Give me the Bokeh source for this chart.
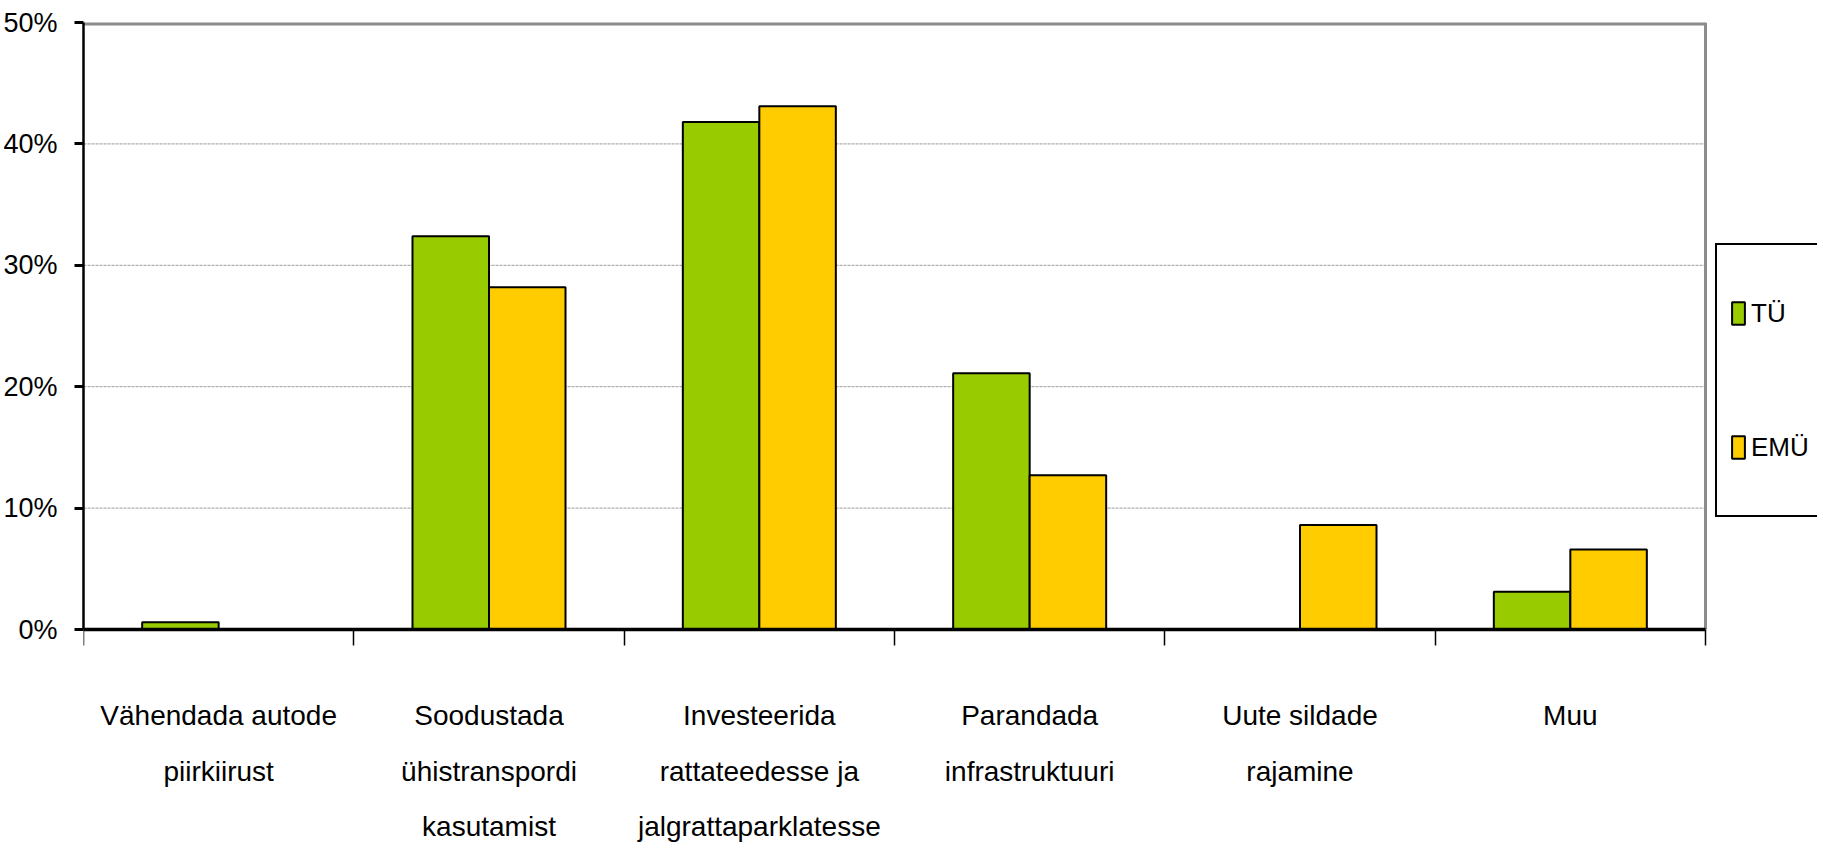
from bokeh.plotting import figure
from bokeh.models import (ColumnDataSource, FixedTicker, PrintfTickFormatter, Legend,
                          LegendItem, Range1d)
from bokeh.transform import dodge
from bokeh.core.properties import value
from bokeh.embed import file_html
from bokeh.resources import INLINE

# ---- data ----
categories = [
    "Vähendada autode\npiirkiirust",
    "Soodustada\nühistranspordi\nkasutamist",
    "Investeerida\nrattateedesse ja\njalgrattaparklatesse",
    "Parandada\ninfrastruktuuri",
    "Uute sildade\nrajamine",
    "Muu",
]
series_names = ["TÜ", "EMÜ"]
tu = [0.6, 32.4, 41.8, 21.1, 0.0, 3.1]
emu = [0.0, 28.2, 43.1, 12.7, 8.6, 6.6]
y_ticks = [0, 10, 20, 30, 40, 50]
grid_ticks = [10, 20, 30, 40]

FONT = "Liberation Sans"
GREEN = "#99CC00"
YELLOW = "#FFCC00"
BORDER = "#8c8c8c"

# ---- layout (pixels) ----
W, H = 1817, 847
LEFT, PLOT_RIGHT, TOP, ZERO_Y = 83, 1705, 22, 629     # plot area inside the figure
LINE_BASELINES = [86, 142, 197]                      # label baselines below the x axis

n = len(categories)
x_centers = [i + 0.5 for i in range(n)]
boundaries = list(range(n + 1))
y_max = y_ticks[-1]
px_per_unit = (ZERO_Y - TOP) / y_max
x_max = n * (W - LEFT) / (PLOT_RIGHT - LEFT)
y_min = -(H - ZERO_Y) / px_per_unit

src = ColumnDataSource(dict(x=x_centers, tu=tu, emu=emu))

p = figure(width=W, height=H, output_backend="svg", toolbar_location=None,
           x_range=Range1d(0, x_max), y_range=Range1d(y_min, y_max),
           min_border_left=LEFT, min_border_right=0, min_border_top=TOP,
           min_border_bottom=0)
p.background_fill_color = "white"
p.border_fill_color = "white"
p.outline_line_color = None
p.xgrid.visible = False
p.ygrid.visible = False

# grid lines limited to the plot area
p.segment(x0=[0] * len(grid_ticks), x1=[n] * len(grid_ticks), y0=grid_ticks, y1=grid_ticks,
          line_color="#9a9a9a", line_dash="3 1", line_width=1)

w = 0.283
r1 = p.vbar(x=dodge("x", -w / 2), top="tu", width=w, source=src,
            fill_color=GREEN, line_color="black", line_width=2)
r2 = p.vbar(x=dodge("x", w / 2), top="emu", width=w, source=src,
            fill_color=YELLOW, line_color="black", line_width=2)

# plot-area border (top and right, gray)
p.segment(x0=[0], x1=[n], y0=[y_max], y1=[y_max], line_color=BORDER, line_width=6)
p.segment(x0=[n], x1=[n], y0=[0], y1=[y_max], line_color=BORDER, line_width=3)

# y axis
ya = p.yaxis[0]
ya.bounds = (0, y_max)
ya.ticker = FixedTicker(ticks=y_ticks)
ya.formatter = PrintfTickFormatter(format="%d%%")
ya.major_label_text_font = FONT
ya.major_label_text_font_size = "27px"
ya.major_label_text_color = "black"
ya.major_tick_out = 9
ya.major_tick_in = 0
ya.major_tick_line_width = 3
ya.minor_tick_out = 0
ya.minor_tick_in = 0
ya.axis_line_width = 2.5
ya.axis_line_color = "black"
ya.major_label_standoff = 17

# x axis at y = 0, tick marks at category boundaries
xa = p.xaxis[0]
xa.fixed_location = 0
xa.bounds = (0, n)
xa.ticker = FixedTicker(ticks=[], minor_ticks=boundaries)
xa.major_tick_out = 0
xa.major_tick_in = 0
xa.minor_tick_out = 16
xa.minor_tick_in = 0
xa.minor_tick_line_width = 1.5
xa.minor_tick_line_color = "black"
xa.axis_line_width = 3.5
xa.axis_line_color = "black"
xa.major_label_standoff = 0
xa.axis_label_standoff = 0

# category labels, one text per line
lx, ly, lt = [], [], []
for i, cat in enumerate(categories):
    for k, line in enumerate(cat.split("\n")):
        lx.append(x_centers[i])
        ly.append(-LINE_BASELINES[k] / px_per_unit)
        lt.append(line)
p.text(x=lx, y=ly, text=lt, text_align="center", text_baseline="alphabetic",
       text_font=value(FONT), text_font_size=value("28px"), text_color="black")

legend = Legend(items=[LegendItem(label=series_names[0], renderers=[r1]),
                       LegendItem(label=series_names[1], renderers=[r2])],
                location=(1632, 330), orientation="vertical")
legend.border_line_color = "black"
legend.border_line_alpha = 1
legend.border_line_width = 2.5
legend.background_fill_color = "white"
legend.background_fill_alpha = 1
legend.padding = 13
legend.margin = 0
legend.glyph_width = 16
legend.glyph_height = 28
legend.label_height = 110
legend.spacing = 24
legend.label_standoff = 5
legend.label_text_font = FONT
legend.label_text_font_size = "26px"
legend.label_text_color = "black"
p.add_layout(legend, "center")

open("out.html", "w").write(file_html(p, INLINE))
